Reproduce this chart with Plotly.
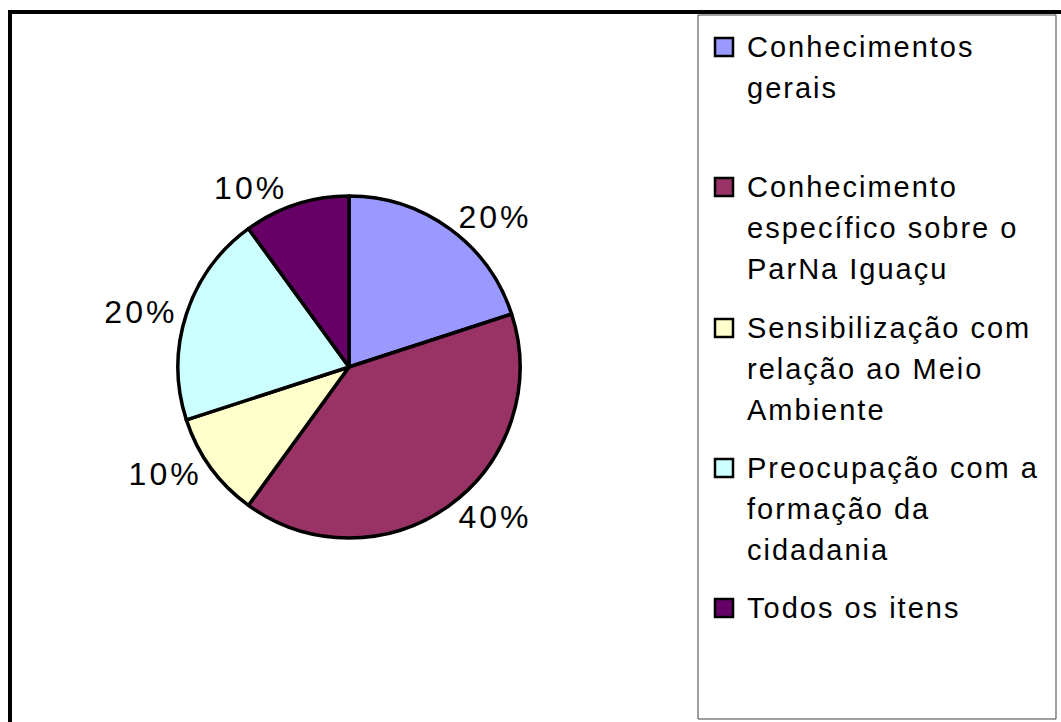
import plotly.graph_objects as go

categories = [
    "Conhecimentos gerais",
    "Conhecimento específico sobre o ParNa Iguaçu",
    "Sensibilização com relação ao Meio Ambiente",
    "Preocupação com a formação da cidadania",
    "Todos os itens",
]
legend_lines = [
    ["Conhecimentos", "gerais"],
    ["Conhecimento", "específico sobre o", "ParNa Iguaçu"],
    ["Sensibilização com", "relação ao Meio", "Ambiente"],
    ["Preocupação com a", "formação da", "cidadania"],
    ["Todos os itens"],
]
values = [20, 40, 10, 20, 10]
colors = ["#9999FF", "#993366", "#FFFFCC", "#CCFFFF", "#660066"]

W, H = 1061, 722
FONT = "Liberation Sans, Arial, sans-serif"

def px(x):
    return x / W

def py(y):
    return 1 - y / H

# pie centred at (349, 367), radius 171 px
cx, cy, r = 349, 367, 171

fig = go.Figure()
fig.add_trace(go.Pie(
    labels=categories,
    values=values,
    sort=False,
    direction="clockwise",
    rotation=0,
    marker=dict(colors=colors, line=dict(color="black", width=3.5)),
    textinfo="percent",
    texttemplate='<span style="letter-spacing:3px">%{percent:.0%}</span>',
    textposition="outside",
    outsidetextfont=dict(family=FONT, size=32, color="black"),
    showlegend=False,
    domain=dict(x=[px(cx - r), px(cx + r)], y=[py(cy + r), py(cy - r)]),
    hoverinfo="label+percent",
))

shapes = []
annotations = []
# outer frame
shapes.append(dict(type="rect", xref="paper", yref="paper",
                   x0=px(10), x1=px(W + 20), y0=py(H + 20), y1=py(12),
                   line=dict(color="black", width=4), fillcolor="rgba(0,0,0,0)", layer="below"))
# legend box
shapes.append(dict(type="rect", xref="paper", yref="paper",
                   x0=px(698), x1=px(1056), y0=py(719), y1=py(15),
                   line=dict(color="#404040", width=1), fillcolor="white", layer="below"))

item_tops = [47, 187, 328, 468, 608]
line_h = 41
for lines, col, y0 in zip(legend_lines, colors, item_tops):
    shapes.append(dict(type="rect", xref="paper", yref="paper",
                       x0=px(715), x1=px(733), y0=py(y0 + 9), y1=py(y0 - 9),
                       line=dict(color="black", width=2.5), fillcolor=col))
    for i, t in enumerate(lines):
        annotations.append(dict(text=f'<span style="letter-spacing:2px">{t}</span>',
                                xref="paper", yref="paper",
                                x=px(745), y=py(y0 + i * line_h),
                                xanchor="left", yanchor="middle", showarrow=False,
                                font=dict(family=FONT, size=29, color="black")))

fig.update_layout(
    width=W, height=H, autosize=False,
    margin=dict(l=0, r=0, t=0, b=0),
    paper_bgcolor="white", plot_bgcolor="white",
    shapes=shapes, annotations=annotations,
)
fig.write_html("out.html", config={"displayModeBar": False})

with open("out.html", encoding="utf-8") as f:
    html = f.read()
html = html.replace("<body>", '<body style="margin:0;padding:0;overflow:hidden">', 1)
with open("out.html", "w", encoding="utf-8") as f:
    f.write(html)
